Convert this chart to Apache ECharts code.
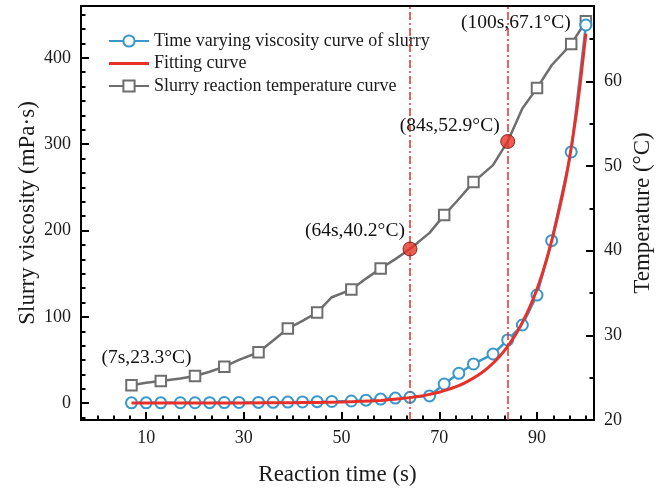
<!DOCTYPE html>
<html>
<head>
<meta charset="utf-8">
<script src="https://cdn.jsdelivr.net/npm/echarts@6/dist/echarts.min.js"></script>
<style>html,body{margin:0;padding:0;background:#fff;}#c{width:664px;height:491px;}</style>
</head>
<body>
<div id="c"></div>
<script>
// ---- data ----
const times = [7,10,13,17,20,23,26,29,33,36,39,42,45,48,52,55,58,61,64,68,71,74,77,81,84,87,90,93,97,100];
const viscosity = [0.5,0.5,0.5,0.6,0.6,0.7,0.8,0.9,1.0,1.1,1.3,1.5,1.8,2.0,2.6,3.6,4.8,6.0,6.8,8.5,22.3,34.7,45.5,57.0,73.3,90.6,125.3,188.3,291.0,438.0];
const temperature = [24.1,24.4,24.6,24.9,25.2,25.7,26.3,27.1,28.0,29.4,30.8,31.7,32.7,34.5,35.4,36.7,37.9,39.0,40.2,42.1,44.2,46.1,48.1,50.1,52.9,56.8,59.2,61.9,64.4,67.1];
const tempMarkerTimes = [7,13,20,26,33,39,45,52,58,71,77,90,97,100];
const fitTimes = [7,20,30,40,45,50,54,58,60,62,64,66,68,70,72,74,76,78,80,82,84,86,88,90,92,94,96,98,99,100];
const fitValues = [0.3,0.3,0.4,0.7,1.0,1.5,2.2,3.3,4.2,5.2,6.5,8.1,10.3,12.8,16.3,20.3,25.9,32.6,41.3,52.1,65.9,83.0,104.8,132.0,167.0,211.0,263.0,333.0,378.0,428.0];
const keyTimes = [64,84];
const keyTemps = [40.2,52.9];
const annTimes = [7,64,84,100];
const annTemps = [24.1,40.2,52.9,67.1];
const annTexts = ['(7s,23.3°C)','(64s,40.2°C)','(84s,52.9°C)','(100s,67.1°C)'];
const xMajorTicks = [10,30,50,70,90];
const xMinorTicks = [0,10/3,20/3,40/3,50/3,20,70/3,80/3,100/3,110/3,40,130/3,140/3,160/3,170/3,60,190/3,200/3,220/3,230/3,80,250/3,260/3,280/3,290/3,100];
const viscMajorTicks = [0,100,200,300,400];
const viscMinorTicks = [-100/6,100/6,200/6,50,400/6,500/6,100+100/6,100+200/6,150,100+400/6,100+500/6,200+100/6,200+200/6,250,200+400/6,200+500/6,300+100/6,300+200/6,350,300+400/6,300+500/6,400+100/6,400+200/6,450];
const tempMajorTicks = [20,30,40,50,60];
const tempMinorTicks = [25,35,45,55,65];
const seriesNames = ['Time varying viscosity curve of slurry','Fitting curve','Slurry reaction temperature curve'];

// ---- styles ----
const F = '"Liberation Serif","Times New Roman",serif';
const BLUE = '#3a97cc', RED = '#e8302a', GRAY = '#6e6e6e', TXT = '#1a1a1a';
const X_MIN = -10/3, X_MAX = 305/3;
const V_MIN = -19.4, V_MAX = 460;
const T_MIN = 20, T_MAX = 68.9;

const chart = echarts.init(document.getElementById('c'), null, {renderer:'canvas'});

function axisCommon(extra){ return Object.assign({type:'value', splitLine:{show:false}}, extra); }
const LINE = {show:true, onZero:false, lineStyle:{color:'#000', width:2}};
const NOLINE = {show:false, onZero:false};

const option = {
  animation:false,
  backgroundColor:'#fff',
  textStyle:{fontFamily:F},
  grid:{left:81, right:70, top:6, bottom:71, show:true, borderColor:'#000', borderWidth:2, backgroundColor:'transparent'},
  legend:{
    data:[
      {name:seriesNames[0]},
      {name:seriesNames[1], icon:'path://M0,0L40,0L40,3L0,3Z'},
      {name:seriesNames[2]}
    ],
    orient:'vertical', left:103, top:27,
    itemWidth:40, itemHeight:14, itemGap:4.5, symbolKeepAspect:true,
    textStyle:{fontFamily:F, fontSize:18, color:TXT, lineHeight:18},
    selectedMode:false
  },
  xAxis:[
    axisCommon({min:X_MIN, max:X_MAX, position:'bottom',
      axisLine:LINE,
      axisTick:{show:true, inside:true, length:8, customValues:xMajorTicks, lineStyle:{color:'#000', width:2}},
      axisLabel:{customValues:xMajorTicks, fontFamily:F, fontSize:18, color:TXT, margin:9},
      name:'Reaction time (s)', nameLocation:'middle', nameGap:43, nameMoveOverlap:false,
      nameTextStyle:{fontFamily:F, fontSize:23, color:TXT}}),
    axisCommon({min:X_MIN, max:X_MAX, position:'bottom',
      axisLine:NOLINE,
      axisTick:{show:true, inside:true, length:4.5, customValues:xMinorTicks, lineStyle:{color:'#000', width:2}},
      axisLabel:{show:false}})
  ],
  yAxis:[
    axisCommon({min:V_MIN, max:V_MAX, position:'left',
      axisLine:LINE,
      axisTick:{show:true, inside:true, length:8, customValues:viscMajorTicks, lineStyle:{color:'#000', width:2}},
      axisLabel:{customValues:viscMajorTicks, fontFamily:F, fontSize:18, color:TXT, margin:10},
      name:'Slurry viscosity (mPa·s)', nameLocation:'middle', nameGap:42, nameMoveOverlap:false,
      nameTextStyle:{fontFamily:F, fontSize:23, color:TXT}}),
    axisCommon({min:V_MIN, max:V_MAX, position:'left',
      axisLine:NOLINE,
      axisTick:{show:true, inside:true, length:4.5, customValues:viscMinorTicks, lineStyle:{color:'#000', width:2}},
      axisLabel:{show:false}}),
    axisCommon({min:T_MIN, max:T_MAX, position:'right',
      axisLine:LINE,
      axisTick:{show:true, inside:true, length:8, customValues:tempMajorTicks, lineStyle:{color:'#000', width:2}},
      axisLabel:{customValues:tempMajorTicks, fontFamily:F, fontSize:18, color:TXT, margin:10},
      name:'Temperature (°C)', nameLocation:'middle', nameGap:37.5, nameMoveOverlap:false,
      nameTextStyle:{fontFamily:F, fontSize:23, color:TXT}}),
    axisCommon({min:T_MIN, max:T_MAX, position:'right',
      axisLine:NOLINE,
      axisTick:{show:true, inside:true, length:4.5, customValues:tempMinorTicks, lineStyle:{color:'#000', width:2}},
      axisLabel:{show:false}})
  ],
  series:[
    {
      name:seriesNames[2], type:'line', xAxisIndex:0, yAxisIndex:2,
      data:times.map((t,i)=> tempMarkerTimes.includes(t) ? [t,temperature[i]] : {value:[t,temperature[i]], symbol:'none'}),
      symbol:'emptyRect', symbolSize:10.5, showAllSymbol:true,
      lineStyle:{color:GRAY, width:2.5},
      itemStyle:{color:GRAY, borderColor:GRAY, borderWidth:2},
      z:3
    },
    {
      name:seriesNames[0], type:'line', xAxisIndex:0, yAxisIndex:0,
      data:times.map((t,i)=>[t,viscosity[i]]),
      symbol:'emptyCircle', symbolSize:11, showAllSymbol:true,
      lineStyle:{color:BLUE, width:2.5},
      itemStyle:{color:BLUE, borderColor:BLUE, borderWidth:2},
      z:4
    },
    {
      name:seriesNames[1], type:'line', xAxisIndex:0, yAxisIndex:0,
      data:fitTimes.map((t,i)=>[t,fitValues[i]]),
      symbol:'none', smooth:0.3,
      lineStyle:{color:RED, width:3},
      itemStyle:{color:RED},
      z:5
    },
    {
      name:'key', type:'scatter', xAxisIndex:0, yAxisIndex:2,
      data:keyTimes.map((t,i)=>[t,keyTemps[i]]),
      symbol:'circle', symbolSize:14,
      itemStyle:{color:'#e63325', borderColor:'#6d0c0c', borderWidth:1},
      markLine:{
        silent:true, symbol:['none','none'], label:{show:false},
        lineStyle:{color:RED, width:1.5, type:[8,3,2,3]},
        data:keyTimes.map(t=>({xAxis:t}))
      },
      z:6
    },
    {
      name:'ann', type:'scatter', xAxisIndex:0, yAxisIndex:2,
      data:annTimes.map((t,i)=>({value:[t,annTemps[i]], name:annTexts[i]})),
      symbolSize:0,
      itemStyle:{color:'#000', opacity:1},
      label:{show:true, formatter:p=>p.name, fontFamily:F, fontSize:19.5, color:'#111', opacity:1, position:'inside', textBorderWidth:0, textBorderColor:'transparent', textShadowBlur:0},
      labelLayout:function(p){
        const offs = [[15,-27],[-55,-18],[-58,-16],[-70,2]];
        const o = offs[p.dataIndex];
        return {dx:o[0], dy:o[1]};
      },
      z:7
    }
  ]
};
chart.setOption(option);
</script>
</body>
</html>
